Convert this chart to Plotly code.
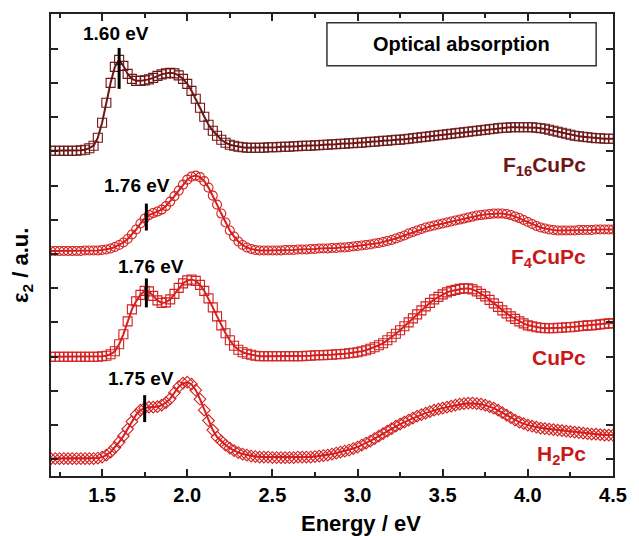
import plotly.graph_objects as go

# Energy grid (eV), 0.025 eV steps from 1.2 to 4.5
energy = [round(1.2 + 0.025 * i, 3) for i in range(133)]

# epsilon_2 (a.u., vertically offset curves)
eps_F16CuPc = [
    309, 309, 309, 309, 309, 309, 309, 309.5, 310, 311.5,
    314, 322, 337, 357, 377, 393, 400, 394, 386, 381,
    379, 379, 379.5, 380.5, 382, 384, 385.5, 386.5, 387, 386.5,
    384.5, 381, 376, 369, 361, 352, 343, 335, 329, 324,
    320, 317, 315, 314, 313, 312.5, 312, 312, 312, 312,
    312, 312.5, 312.5, 312.5, 313, 313, 313, 313.5, 313.5, 314,
    314, 314, 314.5, 314.5, 315, 315, 315.5, 315.5, 316, 316,
    316.5, 316.5, 317, 317, 317.5, 318, 318, 318.5, 319, 319,
    319.5, 320, 320, 320.5, 321, 321.5, 322, 322.5, 323, 323.5,
    324, 324.5, 325, 325.5, 326, 326.5, 327, 327.5, 328, 328.5,
    329, 329.5, 330, 330.5, 331, 331.5, 332, 332, 332.5, 332.5,
    332.5, 332.5, 332.5, 332.5, 332, 331.5, 331, 330, 329, 328,
    327, 326, 325, 324, 323.5, 323, 322.5, 322, 321.5, 321.5,
    321, 321, 321,
]
eps_F4CuPc = [
    208.5, 208.5, 208.5, 208.5, 208.5, 208.5, 208.5, 208.5, 209, 209,
    209, 209, 209.5, 210, 211, 212.5, 214.5, 217, 220.5, 225,
    230, 236, 241, 244.5, 246.5, 248, 250, 253.5, 258, 263.5,
    269, 275, 280, 283, 284, 282.5, 278.5, 272, 264, 255,
    246, 237, 229, 223, 218, 214.5, 212, 210.5, 209.5, 209,
    209, 209, 209, 209, 209, 209.5, 209.5, 209.5, 210, 210,
    210, 210.5, 210.5, 211, 211, 211, 211.5, 211.5, 212, 212,
    212.5, 213, 213.5, 214, 214.5, 215, 216, 216.5, 217.5, 218.5,
    219.5, 221, 222.5, 224, 226, 227.5, 229, 230.5, 232, 233,
    234, 235, 236, 237, 238, 239, 240, 241, 242, 243,
    244, 244.5, 245, 245.5, 246, 246, 246, 245.5, 244.5, 243,
    241.5, 239.5, 237.5, 235.5, 233.5, 232, 231, 230, 229.5, 229,
    229, 229, 229, 229, 229.5, 229.5, 229.5, 229.5, 230, 230,
    230, 230, 230,
]
eps_CuPc = [
    102.5, 102.5, 102.5, 102.5, 102.5, 102.5, 102.5, 102.5, 102.5, 102.5,
    102.5, 102.5, 103, 103.5, 105, 108, 115, 125, 138, 150,
    158, 164.5, 168.5, 168, 163.5, 159, 156.5, 157, 160, 165.5,
    171.5, 176, 179, 180, 178.5, 174.5, 168.5, 161, 152, 143,
    134, 126, 119, 113.5, 109.5, 107, 105.5, 104.5, 103.5, 103,
    103, 103, 103, 103, 103, 103, 103, 103, 103, 103,
    103.5, 103.5, 104, 104, 104, 104.5, 104.5, 105, 105, 105.5,
    106, 106.5, 107, 108, 109, 110.5, 112, 114, 116, 119,
    122, 125.5, 129, 133, 137, 141, 145, 149, 153, 156.5,
    160, 162.5, 165, 167, 168.5, 169.5, 170.5, 171, 171, 170,
    168, 165.5, 163, 159.5, 156, 152.5, 149, 146, 143, 140.5,
    138, 136, 134, 133, 132, 131.5, 131, 131, 131, 131.5,
    131.5, 132, 132, 132.5, 133, 133.5, 134, 134, 134.5, 135,
    135.5, 136, 136,
]
eps_H2Pc = [
    0.5, 0.5, 0.5, 0.5, 0.5, 0.5, 0.5, 0.5, 0.5, 0.5,
    0.5, 1, 2, 4, 7, 11.5, 17, 23, 30, 37.5,
    44.5, 49, 51, 52, 52, 52.5, 54, 56.5, 60.5, 66.5,
    72.5, 76, 77, 75, 69, 60, 49, 38.5, 29, 22,
    18, 14, 11, 8.5, 6.5, 5, 4, 3, 2.5, 2,
    2, 2, 1.5, 1.5, 1.5, 1.5, 1.5, 1.5, 2, 2,
    2, 2, 2.5, 3, 3.5, 4, 5, 6, 7, 8,
    9, 10.5, 12, 14, 16, 18, 20.5, 23, 25.5, 28,
    30.5, 33, 35, 37, 39, 41, 43, 44.5, 46, 47.5,
    49, 50, 51, 52, 53, 54, 55, 55.5, 56, 56,
    55.5, 55, 54, 52.5, 51, 49, 46.5, 44, 41.5, 39,
    37, 35.5, 34, 33, 32, 31, 30.5, 30, 29.5, 29,
    28.5, 28, 27.5, 27, 26.5, 26, 25.5, 25, 25, 24.5,
    24, 24, 24,
]

series_names = ["F16CuPc", "F4CuPc", "CuPc", "H2Pc"]
series_labels = ["F<sub>16</sub>CuPc", "F<sub>4</sub>CuPc", "CuPc", "H<sub>2</sub>Pc"]
series_values = [eps_F16CuPc, eps_F4CuPc, eps_CuPc, eps_H2Pc]
series_symbols = ["square-open", "circle-open", "square-open", "diamond-open"]
series_colors = ["#6e1616", "#d42020", "#d42020", "#d42020"]
label_colors = ["#6e1616", "#c81818", "#c81818", "#c81818"]

# absorption onsets (eV) and the vertical extent of the marker bars (a.u.)
onset_energy = [1.60, 1.76, 1.76, 1.75]
onset_text = ["1.60 eV", "1.76 eV", "1.76 eV", "1.75 eV"]
onset_bar_low = [371, 229, 152, 37]
onset_bar_high = [412, 256, 181, 64]
onset_text_x = [1.579, 1.706, 1.786, 1.729]
onset_text_y = [426, 274, 193, 81]

label_y_paper = [0.672, 0.471, 0.257, 0.045]

FONT = "Arial, Liberation Sans, sans-serif"

fig = go.Figure()
for name, vals, sym, col in zip(series_names, series_values, series_symbols, series_colors):
    fig.add_trace(go.Scatter(
        x=energy, y=vals, mode="lines+markers", name=name,
        line=dict(color=col, width=2),
        marker=dict(symbol=sym, size=9, color=col, line=dict(width=1.1, color=col)),
        showlegend=False,
    ))

for e, lo, hi in zip(onset_energy, onset_bar_low, onset_bar_high):
    fig.add_shape(type="line", xref="x", yref="y", x0=e, x1=e, y0=lo, y1=hi,
                  line=dict(color="black", width=3))

annotations = []
for tx, ty, t in zip(onset_text_x, onset_text_y, onset_text):
    annotations.append(dict(x=tx, y=ty, xref="x", yref="y", text=t, showarrow=False,
                            font=dict(family=FONT, size=19, color="black", weight="bold"),
                            xanchor="center", yanchor="middle"))
for lab, ly, lc in zip(series_labels, label_y_paper, label_colors):
    annotations.append(dict(x=0.956, y=ly, xref="paper", yref="paper", text=lab, showarrow=False,
                            font=dict(family=FONT, size=21, color=lc, weight="bold"),
                            xanchor="right", yanchor="middle"))
annotations.append(dict(x=0.7305, y=0.935, xref="paper", yref="paper", text="Optical absorption",
                        showarrow=False, font=dict(family=FONT, size=20, color="black", weight="bold"),
                        xanchor="center", yanchor="middle"))
annotations.append(dict(x=0.551, y=-0.103, xref="paper", yref="paper", text="Energy / eV",
                        showarrow=False, font=dict(family=FONT, size=22, color="black", weight="bold"),
                        xanchor="center", yanchor="middle"))
annotations.append(dict(x=-0.0505, y=0.456, xref="paper", yref="paper", text="ε<sub>2</sub> / a.u.",
                        showarrow=False, textangle=-90,
                        font=dict(family=FONT, size=22, color="black", weight="bold"),
                        xanchor="center", yanchor="middle"))

fig.add_shape(type="rect", xref="paper", yref="paper", x0=0.491, x1=0.970, y0=0.888, y1=0.981,
              line=dict(color="#333333", width=1.5), fillcolor="rgba(0,0,0,0)")

fig.update_layout(
    width=639, height=536,
    margin=dict(l=51, r=14, t=13, b=60),
    paper_bgcolor="white", plot_bgcolor="white",
    annotations=annotations,
    font=dict(family=FONT),
)
fig.update_xaxes(
    range=[1.2, 4.5], tick0=1.5, dtick=0.5, tickformat=".1f",
    ticks="inside", ticklen=7, tickwidth=2, tickcolor="#222222",
    minor=dict(ticks="inside", ticklen=4, tickwidth=2, dtick=0.25, tick0=1.25, tickcolor="#222222"),
    showline=True, linewidth=2, linecolor="#222222", mirror="ticks",
    showgrid=False, zeroline=False,
    tickfont=dict(family=FONT, size=20, color="black", weight="bold"),
)
fig.update_yaxes(
    range=[-17, 446], tick0=0, dtick=34.25,
    ticks="inside", ticklen=7, tickwidth=2, tickcolor="#222222",
    showticklabels=False,
    showline=True, linewidth=2, linecolor="#222222", mirror="ticks",
    showgrid=False, zeroline=False,
)

fig.write_html(
    "out.html",
    config={"displayModeBar": False},
    post_script="document.body.style.margin='0';document.body.style.padding='0';document.body.style.overflow='hidden';",
)
